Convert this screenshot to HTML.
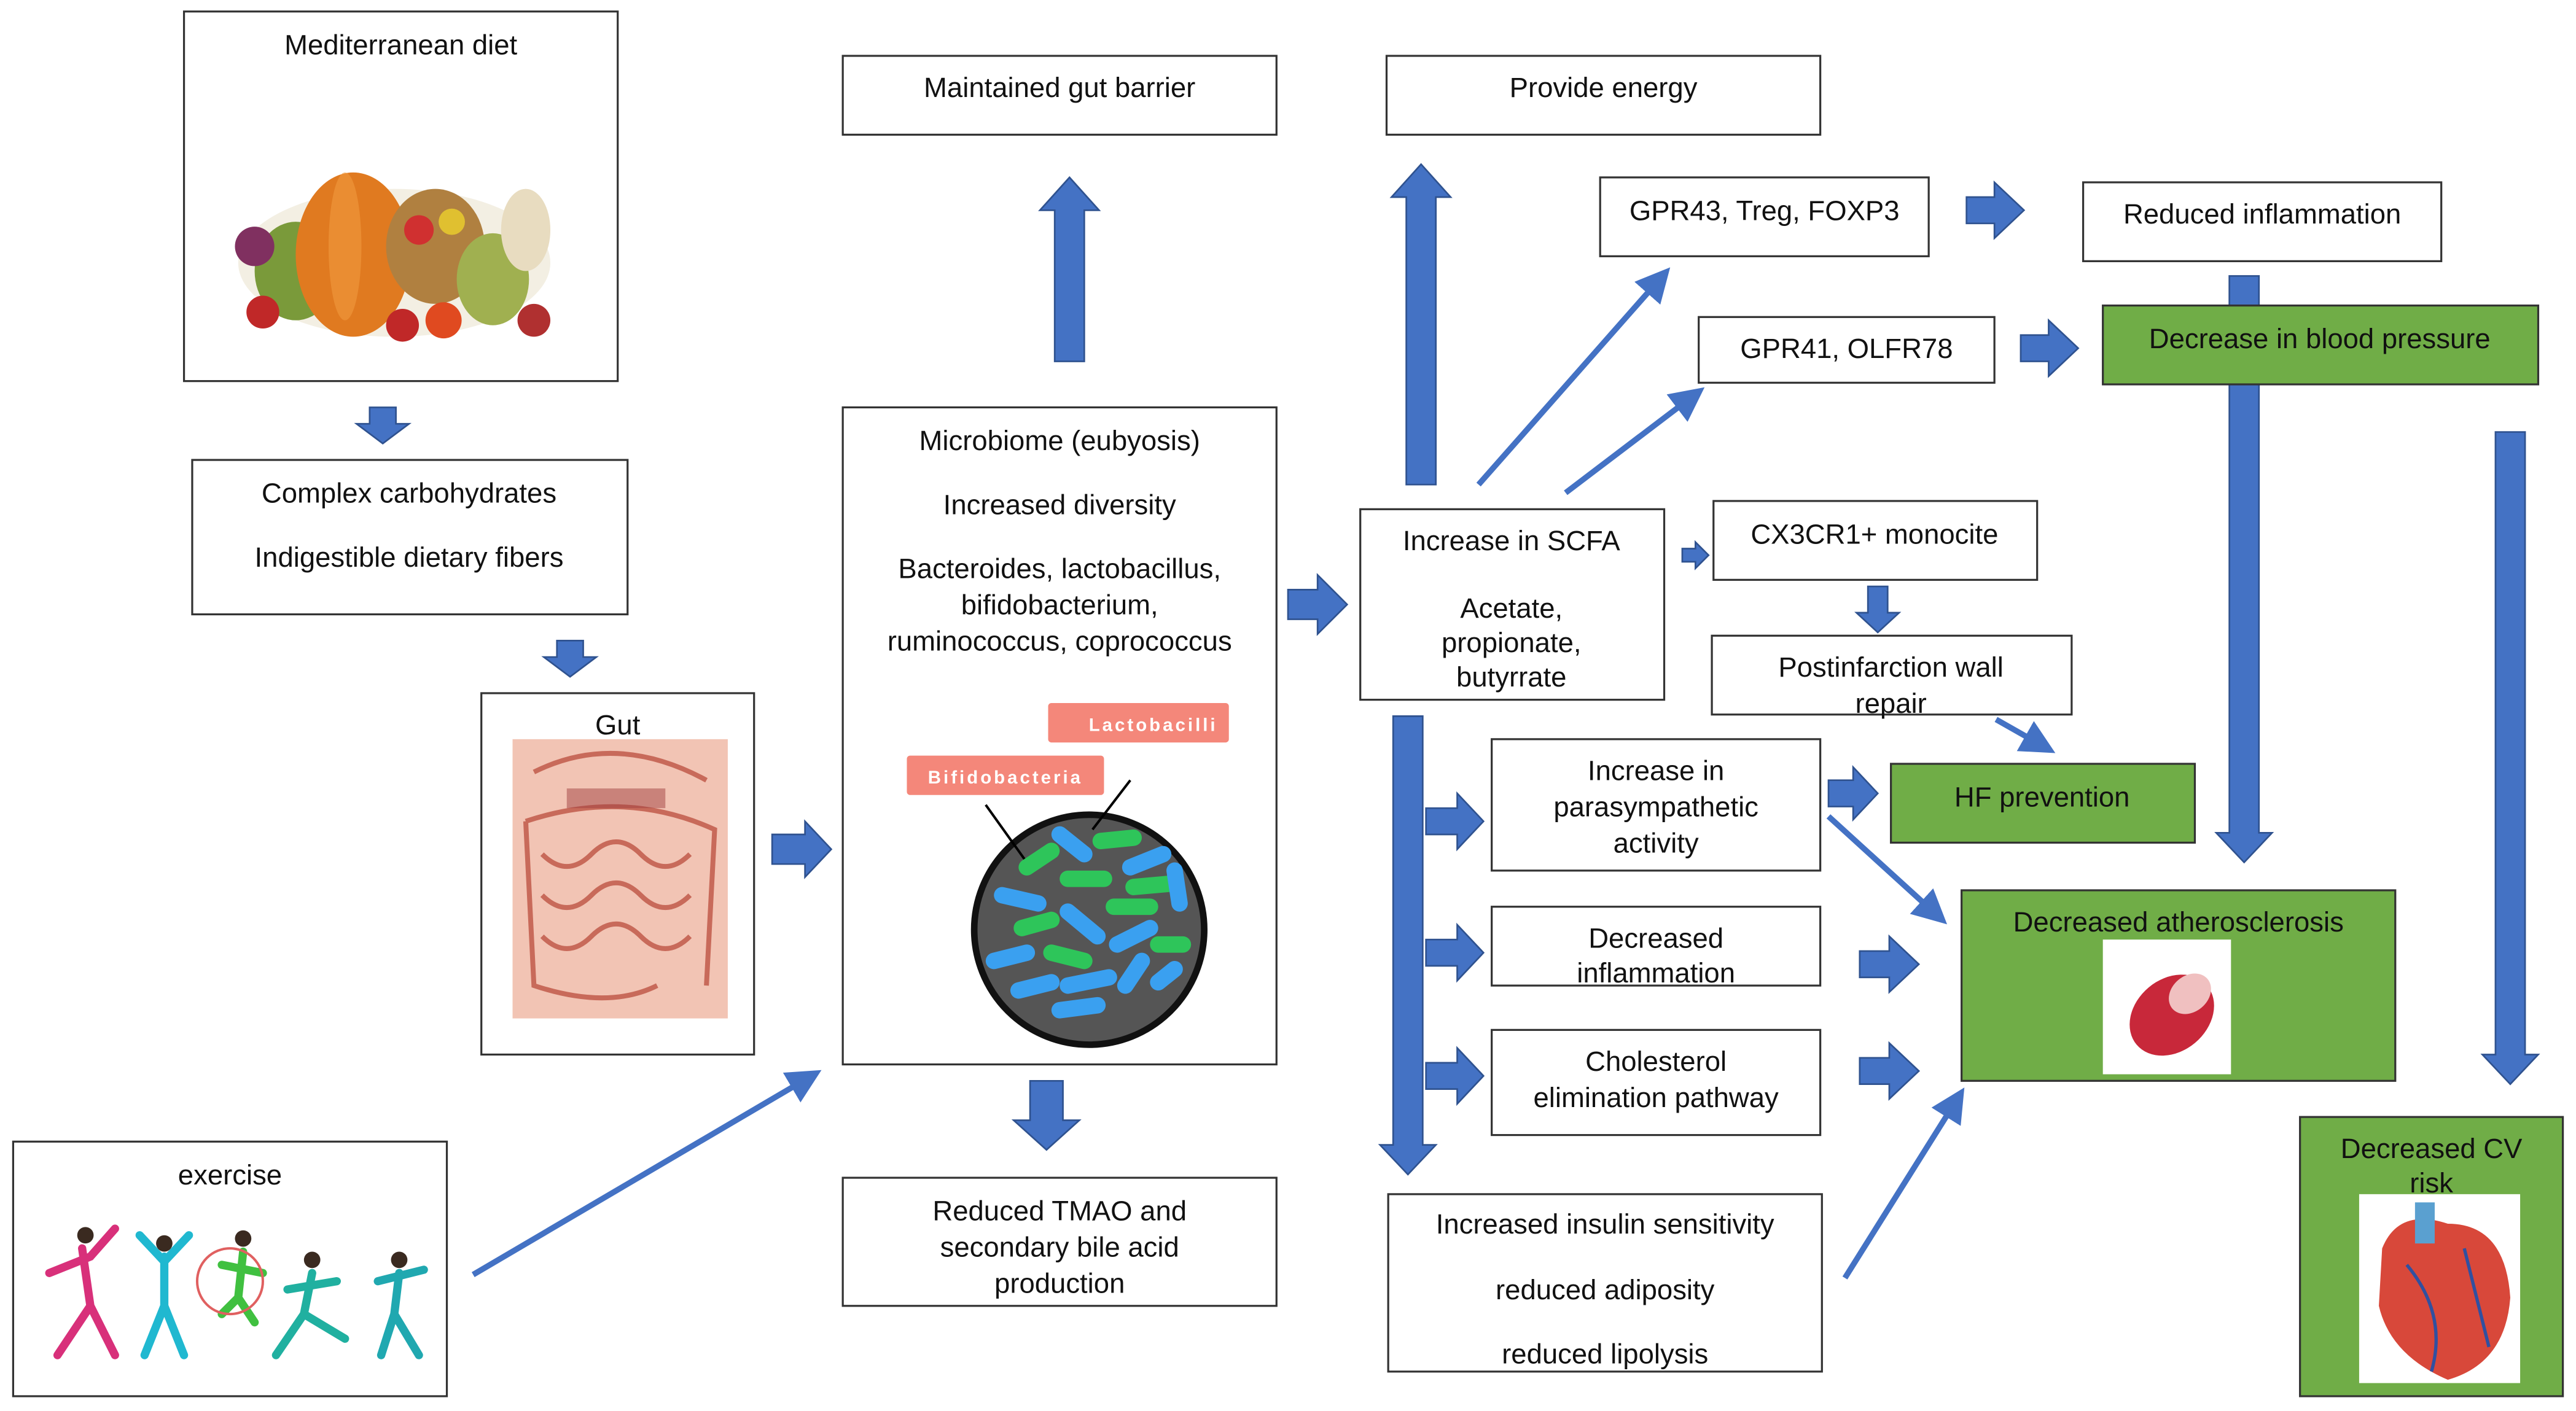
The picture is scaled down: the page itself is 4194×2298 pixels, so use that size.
<!DOCTYPE html>
<html><head><meta charset="utf-8">
<style>
html,body{margin:0;padding:0;background:#fff;}
svg{display:block;}
text{font-family:"Liberation Sans",sans-serif;font-size:17px;fill:#111;text-anchor:middle;}
.b{fill:#fff;stroke:#333;stroke-width:1.2;}
.g{fill:#70ad47;stroke:#333;stroke-width:1.2;}
.a{fill:#4472c4;stroke:#2f528f;stroke-width:1;}
.l{stroke:#4472c4;stroke-width:3.5;fill:none;marker-end:url(#ah);}
</style></head><body>
<svg width="4194" height="2298" viewBox="0 0 1568 859" preserveAspectRatio="none" xmlns="http://www.w3.org/2000/svg">
<defs>
<marker id="ah" markerWidth="6" markerHeight="6" refX="4" refY="3" orient="auto" markerUnits="strokeWidth"><path d="M0,0 L6,3 L0,6 z" fill="#4472c4"/></marker>
</defs>
<rect width="1568" height="859" fill="#fff"/>

<!-- arrow behind BP box -->
<polygon class="a" points="1357,168 1375,168 1375,507 1383,507 1366,525 1349,507 1357,507"/>

<!-- Mediterranean diet -->
<rect class="b" x="112" y="7" width="264" height="225"/>
<text x="244" y="33">Mediterranean diet</text>
<g>
<ellipse cx="240" cy="160" rx="95" ry="45" fill="#e8e0c8" opacity="0.5"/>
<ellipse cx="180" cy="165" rx="25" ry="30" fill="#7a9a3a"/>
<ellipse cx="215" cy="155" rx="35" ry="50" fill="#e07a20"/>
<ellipse cx="210" cy="150" rx="10" ry="45" fill="#f09a40" opacity="0.6"/>
<ellipse cx="265" cy="150" rx="30" ry="35" fill="#b08040"/>
<circle cx="255" cy="140" r="9" fill="#d03030"/><circle cx="275" cy="135" r="8" fill="#e0c030"/>
<ellipse cx="300" cy="170" rx="22" ry="28" fill="#a0b050"/>
<ellipse cx="320" cy="140" rx="15" ry="25" fill="#e8dcc0"/>
<circle cx="160" cy="190" r="10" fill="#c02828"/><circle cx="245" cy="198" r="10" fill="#c02828"/>
<circle cx="270" cy="195" r="11" fill="#e04a20"/><circle cx="155" cy="150" r="12" fill="#803060"/>
<circle cx="325" cy="195" r="10" fill="#b03030"/>
</g>

<!-- Complex carbs -->
<rect class="b" x="117" y="280" width="265" height="94"/>
<text x="249" y="306">Complex carbohydrates</text>
<text x="249" y="345">Indigestible dietary fibers</text>

<!-- Gut -->
<rect class="b" x="293" y="422" width="166" height="220"/>
<text x="376" y="447">Gut</text>
<rect x="312" y="450" width="131" height="170" fill="#f2c4b4"/>
<g fill="none" stroke="#c86a5a" stroke-width="3">
<path d="M325,470 Q375,445 430,475"/>
<path d="M320,500 Q380,480 435,505 L430,600"/>
<path d="M330,520 q15,15 30,0 q15,-15 30,0 q15,15 30,0"/>
<path d="M330,545 q15,15 30,0 q15,-15 30,0 q15,15 30,0"/>
<path d="M330,570 q15,15 30,0 q15,-15 30,0 q15,15 30,0"/>
<path d="M320,500 L325,600 Q370,615 400,600"/>
</g>
<rect x="345" y="480" width="60" height="12" fill="#a04040" opacity="0.5"/>

<!-- Microbiome -->
<rect class="b" x="513" y="248" width="264" height="400"/>
<text x="645" y="274">Microbiome (eubyosis)</text>
<text x="645" y="313">Increased diversity</text>
<text x="645" y="352">Bacteroides, lactobacillus,</text>
<text x="645" y="374">bifidobacterium,</text>
<text x="645" y="396">ruminococcus, coprococcus</text>
<rect x="638" y="428" width="110" height="24" fill="#f4877a" rx="2"/>
<text x="702" y="445" style="font-size:11px;fill:#fff;font-weight:bold;letter-spacing:1.5px">Lactobacilli</text>
<rect x="552" y="460" width="120" height="24" fill="#f4877a" rx="2"/>
<text x="612" y="477" style="font-size:11px;fill:#fff;font-weight:bold;letter-spacing:1.5px">Bifidobacteria</text>
<circle cx="663" cy="566" r="70" fill="#555" stroke="#111" stroke-width="4"/>
<line x1="600" y1="490" x2="625" y2="525" stroke="#000" stroke-width="1.5"/>
<line x1="688" y1="475" x2="665" y2="505" stroke="#000" stroke-width="1.5"/>
<g stroke-linecap="round" stroke-width="10">
<line x1="625" y1="528" x2="640" y2="518" stroke="#2ec55a"/>
<line x1="645" y1="508" x2="660" y2="520" stroke="#3aa0f0"/>
<line x1="670" y1="512" x2="690" y2="510" stroke="#2ec55a"/>
<line x1="688" y1="528" x2="708" y2="520" stroke="#3aa0f0"/>
<line x1="610" y1="545" x2="632" y2="550" stroke="#3aa0f0"/>
<line x1="650" y1="535" x2="672" y2="535" stroke="#2ec55a"/>
<line x1="690" y1="540" x2="712" y2="538" stroke="#2ec55a"/>
<line x1="715" y1="530" x2="718" y2="550" stroke="#3aa0f0"/>
<line x1="622" y1="565" x2="640" y2="560" stroke="#2ec55a"/>
<line x1="650" y1="555" x2="668" y2="570" stroke="#3aa0f0"/>
<line x1="678" y1="552" x2="700" y2="552" stroke="#2ec55a"/>
<line x1="605" y1="585" x2="625" y2="580" stroke="#3aa0f0"/>
<line x1="640" y1="580" x2="660" y2="585" stroke="#2ec55a"/>
<line x1="680" y1="575" x2="700" y2="565" stroke="#3aa0f0"/>
<line x1="705" y1="575" x2="720" y2="575" stroke="#2ec55a"/>
<line x1="620" y1="603" x2="640" y2="598" stroke="#3aa0f0"/>
<line x1="650" y1="600" x2="675" y2="595" stroke="#3aa0f0"/>
<line x1="685" y1="600" x2="695" y2="585" stroke="#3aa0f0"/>
<line x1="705" y1="598" x2="715" y2="590" stroke="#3aa0f0"/>
<line x1="645" y1="615" x2="668" y2="612" stroke="#3aa0f0"/>
</g>

<rect class="b" x="513" y="34" width="264" height="48"/>
<text x="645" y="59">Maintained gut barrier</text>

<rect class="b" x="513" y="717" width="264" height="78"/>
<text x="645" y="743">Reduced TMAO and</text>
<text x="645" y="765">secondary bile acid</text>
<text x="645" y="787">production</text>

<!-- Exercise -->
<rect class="b" x="8" y="695" width="264" height="155"/>
<text x="140" y="721">exercise</text>
<g stroke-width="5" stroke-linecap="round" fill="none">
<path d="M50,760 L55,795 L35,825 M55,795 L70,825 M30,775 L55,765 L70,748" stroke="#d8307a"/>
<circle cx="52" cy="752" r="5" fill="#3a2a20" stroke="none"/>
<path d="M100,765 L100,795 L88,825 M100,795 L112,825 M85,752 L100,768 L115,752" stroke="#20b8d0"/>
<circle cx="100" cy="757" r="5" fill="#3a2a20" stroke="none"/>
<path d="M148,762 L145,790 L135,800 M145,790 L155,805 M135,770 L160,775" stroke="#40c040"/>
<ellipse cx="140" cy="780" rx="20" ry="20" stroke="#e06060" stroke-width="1.5"/>
<circle cx="148" cy="754" r="5" fill="#3a2a20" stroke="none"/>
<path d="M190,775 L185,800 L168,825 M185,800 L210,815 M175,785 L205,780" stroke="#20b0a0"/>
<circle cx="190" cy="767" r="5" fill="#3a2a20" stroke="none"/>
<path d="M243,775 L240,800 L232,825 M240,800 L255,825 M230,780 L258,773" stroke="#20a8b0"/>
<circle cx="243" cy="767" r="5" fill="#3a2a20" stroke="none"/>
</g>

<rect class="b" x="828" y="310" width="185" height="116"/>
<text x="920" y="335">Increase in SCFA</text>
<text x="920" y="376">Acetate,</text>
<text x="920" y="397">propionate,</text>
<text x="920" y="418">butyrrate</text>

<rect class="b" x="844" y="34" width="264" height="48"/>
<text x="976" y="59">Provide energy</text>

<rect class="b" x="974" y="108" width="200" height="48"/>
<text x="1074" y="134">GPR43, Treg, FOXP3</text>

<rect class="b" x="1034" y="193" width="180" height="40"/>
<text x="1124" y="218">GPR41, OLFR78</text>

<rect class="b" x="1268" y="111" width="218" height="48"/>
<text x="1377" y="136">Reduced inflammation</text>

<rect class="g" x="1280" y="186" width="265" height="48"/>
<text x="1412" y="212">Decrease in blood pressure</text>

<rect class="b" x="1043" y="305" width="197" height="48"/>
<text x="1141" y="331">CX3CR1+ monocite</text>

<rect class="b" x="1042" y="387" width="219" height="48"/>
<text x="1151" y="412">Postinfarction wall</text>
<text x="1151" y="434">repair</text>

<rect class="g" x="1151" y="465" width="185" height="48"/>
<text x="1243" y="491">HF prevention</text>

<rect class="b" x="908" y="450" width="200" height="80"/>
<text x="1008" y="475">Increase in</text>
<text x="1008" y="497">parasympathetic</text>
<text x="1008" y="519">activity</text>

<rect class="b" x="908" y="552" width="200" height="48"/>
<text x="1008" y="577">Decreased</text>
<text x="1008" y="598">inflammation</text>

<rect class="b" x="908" y="627" width="200" height="64"/>
<text x="1008" y="652">Cholesterol</text>
<text x="1008" y="674">elimination pathway</text>

<rect class="b" x="845" y="727" width="264" height="108"/>
<text x="977" y="751">Increased insulin sensitivity</text>
<text x="977" y="791">reduced adiposity</text>
<text x="977" y="830">reduced lipolysis</text>

<rect class="g" x="1194" y="542" width="264" height="116"/>
<text x="1326" y="567">Decreased atherosclerosis</text>
<rect x="1280" y="572" width="78" height="82" fill="#fff"/>
<ellipse cx="1322" cy="618" rx="28" ry="22" fill="#c8283a" transform="rotate(-40 1322 618)"/>
<ellipse cx="1333" cy="605" rx="14" ry="11" fill="#f0c0c0" transform="rotate(-40 1333 605)"/>

<rect class="g" x="1400" y="680" width="160" height="170"/>
<text x="1480" y="705">Decreased CV</text>
<text x="1480" y="726">risk</text>
<rect x="1436" y="727" width="98" height="115" fill="#fff"/>
<path d="M1450,760 Q1460,735 1490,745 Q1525,745 1528,790 Q1525,830 1490,840 Q1455,825 1448,795 Z" fill="#d8483a"/>
<rect x="1470" y="732" width="12" height="25" fill="#5aa0d0"/>
<path d="M1465,770 Q1490,800 1480,835 M1500,760 Q1510,800 1515,820" stroke="#3050a0" stroke-width="2" fill="none"/>

<!-- Block arrows -->
<polygon class="a" points="225,248 241,248 241,258 249,258 233,270 217,258 225,258"/>
<polygon class="a" points="339,390 355,390 355,400 363,400 347,412 331,400 339,400"/>
<polygon class="a" points="470,508 490,508 490,500 506,517 490,534 490,526 470,526"/>
<polygon class="a" points="642,220 660,220 660,128 669,128 651,108 633,128 642,128"/>
<polygon class="a" points="627,658 647,658 647,682 657,682 637,700 617,682 627,682"/>
<polygon class="a" points="784,359 802,359 802,350 820,368 802,386 802,377 784,377"/>
<polygon class="a" points="856,295 874,295 874,120 883,120 865,100 847,120 856,120"/>
<polygon class="a" points="1197,120 1214,120 1214,111 1232,128 1214,145 1214,136 1197,136"/>
<polygon class="a" points="1230,204 1247,204 1247,195 1265,212 1247,229 1247,220 1230,220"/>
<polygon class="a" points="1519,263 1537,263 1537,642 1545,642 1528,660 1511,642 1519,642"/>
<polygon class="a" points="1024,334 1032,334 1032,330 1040,338 1032,346 1032,342 1024,342"/>
<polygon class="a" points="1137,357 1149,357 1149,373 1156,373 1143,385 1130,373 1137,373"/>
<polygon class="a" points="848,436 866,436 866,697 874,697 857,715 840,697 848,697"/>
<polygon class="a" points="868,492 887,492 887,483 903,500 887,517 887,508 868,508"/>
<polygon class="a" points="868,572 887,572 887,563 903,580 887,597 887,588 868,588"/>
<polygon class="a" points="868,647 887,647 887,638 903,655 887,672 887,663 868,663"/>
<polygon class="a" points="1113,475 1128,475 1128,467 1143,483 1128,499 1128,491 1113,491"/>
<polygon class="a" points="1132,579 1150,579 1150,570 1168,587 1150,604 1150,595 1132,595"/>
<polygon class="a" points="1132,644 1150,644 1150,635 1168,652 1150,669 1150,660 1132,660"/>

<line class="l" x1="288" y1="776" x2="494" y2="655"/>
<line class="l" x1="900" y1="295" x2="1012" y2="168"/>
<line class="l" x1="953" y1="300" x2="1032" y2="240"/>
<line class="l" x1="1215" y1="438" x2="1245" y2="455"/>
<line class="l" x1="1113" y1="497" x2="1180" y2="558"/>
<line class="l" x1="1123" y1="778" x2="1192" y2="668"/>
</svg>
</body></html>
